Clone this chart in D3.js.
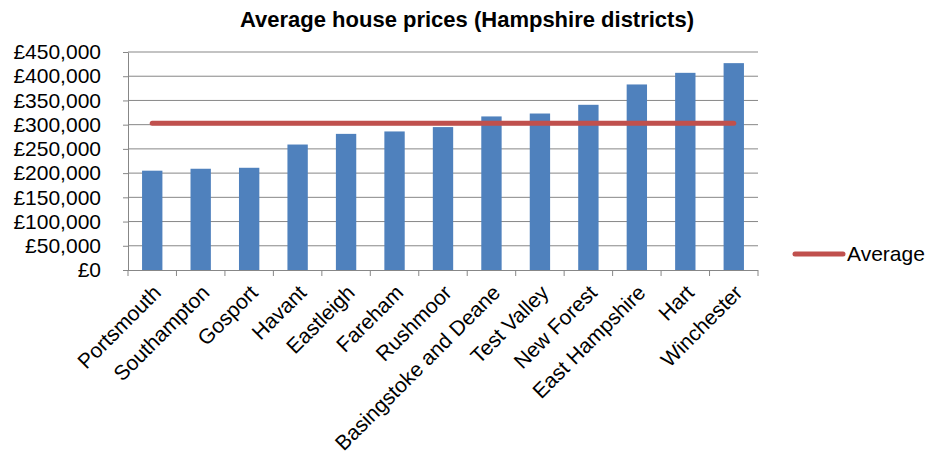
<!DOCTYPE html>
<html>
<head>
<meta charset="utf-8">
<script src="https://cdn.jsdelivr.net/npm/d3@7"></script>
<style>
  body { margin: 0; background: #fff; }
  text { font-family: "Liberation Sans", Arial, sans-serif; fill: #000; }
</style>
</head>
<body>
<svg id="chart" width="926" height="464"></svg>
<script>
// Districts, sorted by price
const districts = ["Portsmouth", "Southampton", "Gosport", "Havant", "Eastleigh", "Fareham", "Rushmoor",
    "Basingstoke and Deane", "Test Valley", "New Forest", "East Hampshire", "Hart", "Winchester"];
const prices = [205000, 209000, 211000, 259000, 281000, 286000, 295000, 317000, 323000, 341000, 383000, 407000, 427000];
const averagePrice = 303000;
const yTicks = [0, 50000, 100000, 150000, 200000, 250000, 300000, 350000, 400000, 450000];

const data = districts.map((d, i) => ({ label: d, value: prices[i] }));

const svg = d3.select("#chart");
const margin = { top: 52, right: 168, bottom: 194, left: 128 };
const width = +svg.attr("width");
const height = +svg.attr("height");

// Scales
const x = d3.scaleBand()
    .domain(districts)
    .range([margin.left, width - margin.right])
    .paddingInner(0.58)
    .paddingOuter(0.29);

const y = d3.scaleLinear()
    .domain([0, 450000])
    .range([height - margin.bottom, margin.top]);

const gridColor = "#878787";
const fmt = d => "£" + d3.format(",")(d);

// Gridlines
svg.append("g")
    .selectAll("line")
    .data(yTicks.slice(1))
    .enter().append("line")
    .attr("x1", margin.left)
    .attr("x2", width - margin.right)
    .attr("y1", d => y(d))
    .attr("y2", d => y(d))
    .attr("stroke", gridColor)
    .attr("stroke-width", 1);

// Y axis
const yAxis = svg.append("g")
    .attr("transform", `translate(${margin.left}, 0)`)
    .call(d3.axisLeft(y).tickValues(yTicks).tickFormat(fmt).tickSize(5).tickPadding(22).tickSizeOuter(0));
yAxis.select(".domain").attr("stroke", gridColor);
yAxis.selectAll(".tick line").attr("stroke", gridColor);
yAxis.selectAll("text").attr("font-size", "21px").attr("fill", "#000")
    .attr("font-family", "'Liberation Sans', Arial, sans-serif");

// Bars
svg.selectAll(".bar")
    .data(data)
    .enter().append("rect")
    .attr("class", "bar")
    .attr("x", d => x(d.label))
    .attr("y", d => y(d.value))
    .attr("width", x.bandwidth())
    .attr("height", d => y(0) - y(d.value))
    .attr("fill", "#4f81bd");

// X axis: line plus ticks at category boundaries
const x0 = x.range()[0];
const step = x.step();
const xAxis = svg.append("g");
xAxis.append("line")
    .attr("x1", margin.left)
    .attr("x2", width - margin.right)
    .attr("y1", y(0) + 0.5)
    .attr("y2", y(0) + 0.5)
    .attr("stroke", gridColor);
xAxis.selectAll(".xtick")
    .data(d3.range(districts.length + 1))
    .enter().append("line")
    .attr("class", "xtick")
    .attr("x1", i => x0 + i * step)
    .attr("x2", i => x0 + i * step)
    .attr("y1", y(0))
    .attr("y2", y(0) + 6)
    .attr("stroke", gridColor);

// Category labels, rotated
xAxis.selectAll(".xlabel")
    .data(districts)
    .enter().append("text")
    .attr("class", "xlabel")
    .attr("font-size", "21px")
    .attr("text-anchor", "end")
    .attr("transform", d => `translate(${x(d) + x.bandwidth() / 2 + 10}, ${y(0) + 24}) rotate(-45)`)
    .text(d => d);

// Average line
const line = d3.line()
    .x(d => x(d) + x.bandwidth() / 2)
    .y(() => y(averagePrice));
svg.append("path")
    .datum(districts)
    .attr("d", line)
    .attr("fill", "none")
    .attr("stroke", "#c0504d")
    .attr("stroke-width", 5)
    .attr("stroke-linecap", "round");

// Legend
const legend = svg.append("g").attr("transform", "translate(795, 254)");
legend.append("line")
    .attr("x1", 0).attr("x2", 48)
    .attr("y1", 0).attr("y2", 0)
    .attr("stroke", "#c0504d")
    .attr("stroke-width", 5)
    .attr("stroke-linecap", "round");
legend.append("text")
    .attr("x", 52)
    .attr("y", 7)
    .attr("font-size", "21px")
    .text("Average");

// Title
svg.append("text")
    .attr("x", 467)
    .attr("y", 27)
    .attr("text-anchor", "middle")
    .attr("font-size", "22px")
    .attr("font-weight", "bold")
    .text("Average house prices (Hampshire districts)");
</script>
</body>
</html>
